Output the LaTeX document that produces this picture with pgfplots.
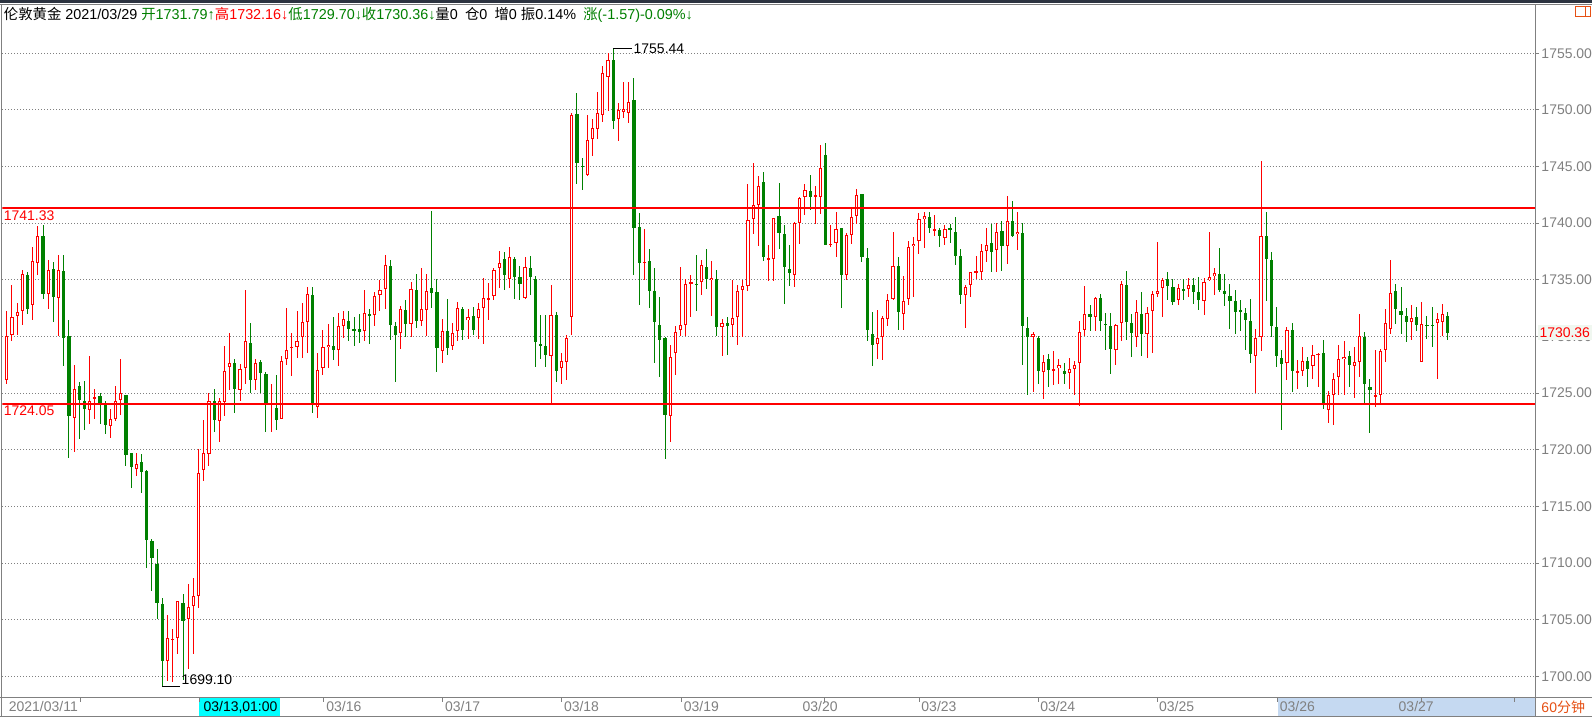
\documentclass[border=0pt]{standalone}
\usepackage{pgfplots}
\usepackage{pgfplotstable}
\usepackage{fontspec}
\pgfplotsset{compat=1.18}
\setmainfont{Liberation Sans}
\newfontfamily\cjk{Noto Sans CJK SC}
\definecolor{upred}{RGB}{255,0,0}
\definecolor{dngreen}{RGB}{0,128,0}
\definecolor{axgray}{RGB}{128,128,128}
\definecolor{stripblue}{RGB}{197,217,241}
\definecolor{cursorcyan}{RGB}{0,255,255}
\definecolor{topbar}{RGB}{44,51,64}
\definecolor{orng}{RGB}{230,80,20}
\definecolor{lastbg}{RGB}{240,247,240}

% 60-minute bars: n open high low close
\pgfplotstableread{
n o h l c
1 1726.18 1732.29 1725.82 1730.08
2 1730.14 1734.58 1729.58 1731.73
3 1731.82 1732.96 1730.17 1732.17
4 1732.26 1735.90 1731.00 1735.55
5 1735.46 1735.67 1731.96 1732.43
6 1732.76 1737.93 1731.44 1736.66
7 1736.46 1739.72 1735.46 1738.90
8 1738.90 1739.87 1733.35 1733.73
9 1733.73 1736.78 1732.46 1735.90
10 1735.99 1736.61 1731.26 1733.46
11 1733.37 1737.22 1730.03 1735.90
12 1735.75 1737.22 1727.38 1729.88
13 1730.03 1731.50 1719.30 1722.98
14 1722.80 1727.44 1719.80 1725.38
15 1725.59 1726.03 1720.92 1724.38
16 1724.35 1726.03 1721.74 1723.56
17 1723.50 1728.26 1722.24 1724.32
18 1724.56 1725.32 1722.68 1724.68
19 1724.71 1725.03 1722.24 1724.12
20 1724.06 1724.30 1721.36 1722.18
21 1722.10 1723.65 1721.01 1722.68
22 1722.68 1725.68 1722.53 1724.32
23 1724.41 1727.97 1723.03 1725.00
24 1724.85 1724.85 1718.54 1719.51
25 1719.68 1719.68 1716.63 1718.48
26 1718.33 1719.74 1717.69 1718.80
27 1718.89 1719.60 1716.22 1718.01
28 1718.10 1718.27 1709.58 1712.05
29 1711.96 1712.17 1707.55 1710.46
30 1709.90 1711.22 1705.06 1706.52
31 1706.37 1706.90 1699.10 1701.38
32 1701.38 1705.41 1699.60 1703.35
33 1703.20 1704.17 1699.50 1703.30
34 1703.35 1706.67 1701.97 1706.67
35 1706.52 1707.26 1699.70 1704.91
36 1705.05 1708.14 1700.65 1706.17
37 1706.23 1708.73 1701.97 1707.11
38 1707.11 1720.10 1706.00 1717.98
39 1718.22 1722.62 1717.25 1719.68
40 1719.60 1725.03 1718.57 1724.32
41 1724.32 1725.38 1721.56 1722.62
42 1722.53 1724.59 1720.68 1724.32
43 1724.21 1729.20 1722.98 1726.94
44 1727.32 1730.32 1725.27 1727.68
45 1727.68 1728.03 1723.27 1725.33
46 1725.27 1727.59 1724.30 1727.15
47 1727.23 1734.08 1725.77 1729.61
48 1729.44 1731.20 1725.03 1726.15
49 1726.15 1728.03 1725.27 1727.68
50 1727.76 1727.97 1725.03 1726.80
51 1726.74 1726.88 1721.56 1724.15
52 1723.94 1725.82 1721.56 1724.09
53 1723.65 1726.65 1721.74 1722.62
54 1722.77 1728.26 1722.68 1727.82
55 1728.03 1732.52 1727.53 1728.79
56 1729.00 1730.32 1726.50 1729.10
57 1729.08 1732.23 1728.11 1729.64
58 1729.97 1732.96 1728.11 1731.29
59 1731.29 1734.37 1728.56 1733.78
60 1733.70 1734.37 1723.27 1724.15
61 1723.79 1728.56 1722.83 1727.09
62 1727.23 1730.61 1726.65 1729.08
63 1729.08 1731.14 1727.18 1729.29
64 1729.20 1731.70 1727.97 1728.79
65 1728.79 1732.08 1727.38 1730.94
66 1730.91 1732.23 1729.88 1731.55
67 1731.41 1732.23 1729.58 1730.70
68 1730.64 1731.70 1729.14 1730.55
69 1730.64 1732.02 1729.38 1730.43
70 1730.46 1734.14 1729.58 1732.08
71 1732.02 1732.43 1729.38 1731.79
72 1731.88 1733.90 1730.96 1733.61
73 1733.64 1734.96 1732.23 1734.14
74 1734.20 1737.22 1732.43 1736.31
75 1736.25 1736.78 1729.67 1731.05
76 1730.96 1731.32 1725.97 1730.14
77 1730.32 1732.73 1728.85 1732.43
78 1732.38 1733.26 1729.97 1731.14
79 1731.11 1734.84 1729.97 1734.20
80 1734.14 1735.55 1730.73 1731.35
81 1731.35 1736.08 1730.91 1732.43
82 1732.35 1735.55 1730.03 1734.02
83 1734.29 1741.10 1732.49 1733.84
84 1733.96 1735.11 1726.85 1728.97
85 1728.70 1731.55 1727.62 1730.52
86 1730.52 1733.34 1728.38 1728.97
87 1729.14 1731.20 1728.79 1730.32
88 1730.46 1733.08 1729.58 1732.52
89 1732.43 1732.58 1729.67 1730.61
90 1731.44 1732.43 1729.79 1731.73
91 1731.85 1732.61 1730.17 1730.55
92 1731.61 1732.96 1729.79 1732.43
93 1732.49 1735.17 1729.38 1733.40
94 1733.34 1734.73 1731.49 1733.37
95 1733.55 1736.05 1733.26 1735.90
96 1736.05 1737.58 1734.28 1736.49
97 1736.87 1737.49 1734.08 1735.40
98 1735.08 1737.90 1734.28 1737.02
99 1736.87 1737.02 1733.32 1735.26
100 1735.26 1736.20 1733.26 1734.64
101 1733.37 1737.02 1733.32 1736.14
102 1736.05 1737.14 1733.70 1735.23
103 1735.08 1735.32 1727.32 1729.49
104 1729.32 1731.93 1727.97 1729.23
105 1729.20 1731.93 1727.29 1728.38
106 1728.26 1734.58 1724.15 1731.90
107 1731.90 1732.14 1725.97 1726.94
108 1727.20 1728.50 1725.82 1727.82
109 1727.76 1730.17 1726.15 1729.88
110 1731.73 1749.77 1730.11 1749.53
111 1749.65 1751.47 1743.42 1745.30
112 1745.07 1745.74 1742.89 1744.98
113 1744.27 1749.56 1744.18 1747.36
114 1747.42 1749.21 1745.95 1748.39
115 1748.36 1751.62 1747.42 1749.71
116 1749.56 1753.88 1748.97 1753.23
117 1752.94 1755.00 1749.94 1754.41
118 1754.41 1755.44 1748.30 1749.06
119 1749.18 1750.59 1747.30 1749.99
120 1749.85 1752.44 1749.27 1750.06
121 1749.77 1752.50 1748.88 1750.74
122 1750.88 1752.79 1735.43 1739.57
123 1739.66 1740.89 1732.76 1736.49
124 1736.49 1739.48 1734.96 1736.61
125 1736.64 1737.72 1732.49 1734.00
126 1734.02 1736.05 1727.62 1731.26
127 1731.05 1733.46 1726.44 1729.67
128 1729.82 1729.97 1719.21 1723.03
129 1723.03 1729.29 1720.68 1728.20
130 1728.55 1730.96 1726.65 1730.38
131 1730.55 1736.14 1730.02 1731.02
132 1731.05 1735.11 1730.02 1734.64
133 1734.67 1735.46 1731.73 1734.79
134 1734.67 1737.22 1732.23 1734.58
135 1734.82 1736.78 1733.64 1736.31
136 1736.11 1737.72 1734.20 1735.08
137 1734.96 1736.69 1731.85 1735.17
138 1735.08 1735.90 1730.02 1730.82
139 1730.85 1731.55 1728.26 1731.20
140 1731.20 1731.73 1728.35 1730.91
141 1731.02 1735.02 1729.97 1731.64
142 1731.73 1734.58 1729.23 1734.05
143 1734.08 1735.02 1729.97 1734.49
144 1734.49 1743.48 1733.99 1740.31
145 1740.37 1745.30 1739.07 1741.63
146 1741.60 1744.18 1737.96 1743.30
147 1743.62 1744.54 1736.64 1736.99
148 1736.78 1738.10 1734.87 1736.90
149 1736.84 1740.45 1734.87 1740.45
150 1740.66 1743.54 1737.75 1739.19
151 1739.07 1739.87 1732.90 1736.11
152 1735.96 1738.10 1734.43 1735.61
153 1735.43 1740.07 1734.35 1740.01
154 1740.01 1742.36 1738.19 1742.22
155 1742.36 1743.48 1740.75 1742.95
156 1742.86 1744.27 1741.19 1742.36
157 1742.36 1743.30 1739.92 1742.45
158 1742.30 1746.92 1740.84 1744.86
159 1746.04 1747.06 1738.04 1738.04
160 1738.10 1739.87 1737.90 1738.19
161 1738.25 1740.98 1737.02 1739.51
162 1739.57 1739.57 1732.52 1735.46
163 1735.46 1739.13 1735.02 1738.98
164 1738.95 1741.33 1738.19 1740.54
165 1740.66 1743.07 1739.95 1742.48
166 1742.60 1742.60 1736.55 1737.07
167 1736.96 1737.81 1729.58 1730.55
168 1730.26 1732.20 1727.38 1729.23
169 1729.35 1732.38 1728.06 1729.88
170 1729.97 1731.85 1727.97 1731.64
171 1731.55 1733.76 1730.91 1733.23
172 1733.35 1739.19 1733.20 1736.26
173 1736.20 1736.99 1730.61 1732.14
174 1732.00 1735.31 1730.55 1733.14
175 1733.32 1738.46 1732.82 1737.90
176 1737.96 1738.78 1733.46 1738.19
177 1738.43 1740.89 1737.31 1740.37
178 1740.37 1741.01 1737.78 1740.63
179 1740.54 1741.01 1739.13 1739.54
180 1739.36 1740.75 1738.90 1739.45
181 1739.42 1739.57 1737.87 1738.84
182 1738.75 1739.84 1738.04 1739.48
183 1739.60 1739.93 1738.25 1739.42
184 1739.25 1740.54 1736.28 1737.07
185 1737.13 1737.75 1732.85 1733.64
186 1733.64 1734.55 1730.73 1734.37
187 1734.55 1735.69 1733.46 1735.69
188 1735.67 1737.13 1735.11 1735.81
189 1735.69 1738.16 1734.96 1737.54
190 1737.60 1739.54 1736.55 1738.07
191 1738.25 1739.95 1735.67 1737.49
192 1737.60 1740.01 1735.67 1739.22
193 1739.31 1740.16 1735.75 1737.96
194 1737.96 1742.42 1736.43 1740.19
195 1740.22 1741.98 1738.75 1738.90
196 1739.04 1741.01 1737.60 1739.25
197 1739.16 1740.01 1727.47 1730.97
198 1730.76 1731.73 1724.80 1729.97
199 1729.97 1730.38 1725.09 1730.23
200 1729.88 1730.08 1725.77 1726.94
201 1726.88 1728.32 1724.50 1727.76
202 1727.97 1728.50 1725.53 1727.03
203 1727.03 1728.76 1725.71 1727.12
204 1727.21 1728.03 1725.85 1727.50
205 1727.00 1727.62 1725.85 1726.65
206 1726.80 1728.12 1725.33 1727.09
207 1727.15 1727.88 1724.80 1727.50
208 1727.68 1731.41 1723.86 1730.41
209 1730.61 1734.49 1730.02 1731.99
210 1732.02 1732.82 1730.46 1731.70
211 1731.70 1733.49 1730.52 1733.41
212 1733.41 1733.76 1730.46 1731.35
213 1731.14 1732.11 1728.85 1730.99
214 1730.97 1732.11 1726.71 1728.91
215 1728.79 1731.11 1727.47 1731.02
216 1731.20 1734.87 1729.65 1734.64
217 1734.58 1735.81 1729.68 1731.26
218 1731.20 1732.00 1728.18 1730.32
219 1729.97 1733.23 1729.09 1732.17
220 1732.02 1733.93 1728.32 1730.23
221 1730.23 1732.61 1728.12 1732.08
222 1732.29 1734.05 1728.56 1733.76
223 1733.76 1738.34 1733.50 1734.05
224 1734.29 1735.17 1731.70 1735.02
225 1735.08 1735.73 1733.20 1734.43
226 1734.40 1735.08 1732.82 1733.03
227 1733.20 1734.64 1732.82 1734.29
228 1734.23 1735.08 1733.26 1734.00
229 1734.20 1735.17 1733.46 1734.58
230 1734.58 1735.17 1732.88 1733.91
231 1733.97 1735.26 1732.32 1733.26
232 1733.11 1735.17 1731.88 1734.82
233 1734.96 1739.19 1734.87 1735.26
234 1735.32 1736.05 1733.70 1735.61
235 1735.55 1737.81 1733.91 1734.08
236 1734.05 1735.52 1732.67 1733.79
237 1733.61 1734.67 1730.70 1733.11
238 1733.17 1734.14 1730.26 1732.20
239 1732.32 1733.20 1730.52 1732.23
240 1732.08 1732.52 1728.77 1731.49
241 1731.41 1733.35 1727.68 1728.47
242 1728.27 1730.70 1725.03 1729.88
243 1729.94 1745.51 1728.71 1738.87
244 1738.90 1741.04 1733.11 1736.87
245 1736.78 1737.49 1729.94 1730.91
246 1730.85 1732.61 1727.33 1728.27
247 1728.12 1728.85 1721.80 1727.59
248 1727.68 1730.85 1726.21 1730.58
249 1730.58 1731.23 1725.09 1726.94
250 1726.86 1727.97 1725.39 1726.94
251 1726.94 1729.12 1726.56 1727.88
252 1727.88 1728.21 1725.53 1727.18
253 1727.38 1729.26 1726.27 1728.38
254 1728.41 1728.56 1725.56 1728.50
255 1728.59 1729.73 1723.56 1724.09
256 1723.56 1725.18 1722.40 1724.83
257 1724.83 1726.80 1722.20 1726.27
258 1726.42 1729.29 1724.83 1728.03
259 1728.03 1729.65 1724.83 1728.21
260 1728.32 1728.68 1725.53 1727.47
261 1727.38 1729.06 1724.59 1727.76
262 1727.74 1732.02 1726.44 1730.02
263 1729.97 1730.41 1723.91 1725.77
264 1725.56 1726.21 1721.50 1725.27
265 1724.68 1728.85 1723.80 1724.80
266 1724.83 1728.91 1723.91 1728.74
267 1728.79 1732.46 1727.74 1731.14
268 1730.67 1736.78 1730.26 1733.85
269 1734.05 1734.67 1731.11 1732.38
270 1732.29 1734.35 1730.26 1731.88
271 1731.79 1732.50 1729.50 1731.32
272 1731.26 1732.82 1729.68 1731.64
273 1731.73 1732.61 1730.47 1731.00
274 1727.77 1733.06 1727.77 1731.14
275 1731.06 1731.85 1729.79 1730.97
276 1731.06 1732.58 1729.09 1730.97
277 1731.20 1732.08 1726.21 1731.58
278 1731.26 1732.91 1730.03 1731.99
279 1731.79 1732.16 1729.70 1730.36
}\candles

\pgfplotsset{
  candle/.style 2 args={draw=none, mark=none, forget plot,
    error bars/y dir=both, error bars/y explicit, error bars/error mark=none,
    error bars/error bar style={draw=#1, line width=#2, line cap=butt}},
  up/.style={restrict expr to domain={\thisrow{c}-\thisrow{o}}{0:100}},
  down/.style={restrict expr to domain={\thisrow{c}-\thisrow{o}}{-100:-0.001}},
}

\begin{document}
\begin{tikzpicture}[font=\fontsize{7pt}{8pt}\selectfont]
% 1px = 0.5pt, origin at top left
\begin{scope}[x=0.5pt,y=-0.5pt]
  \path[use as bounding box] (0,0) rectangle (1594,719);
  \fill[white] (0,0) rectangle (1594,719);
  \fill[topbar] (0,0) rectangle (1594,3);
  \fill[stripblue] (1279,699) rectangle (1537,717);
  \fill[cursorcyan] (198.5,699) rectangle (280,717);
\end{scope}

\begin{axis}[at={(1pt,-349pt)}, anchor=south west,
  scale only axis, width=767.5pt, height=346.5pt,
  xmin=0.172, xmax=295.87, ymin=1698.18, ymax=1759.26,
  axis line style={draw=none},
  xtick=\empty,
  ytick={1700,1705,...,1755},
  ytick pos=right, yticklabel pos=right,
  tick align=outside, major tick length=2pt,
  ytick style={axgray, line width=0.5pt},
  ymajorgrids,
  grid style={axgray, line width=0.5pt, dash pattern=on 0.5pt off 1pt},
  yticklabel style={text=axgray, inner sep=1pt, font=\fontsize{7pt}{8pt}\selectfont,
    /pgf/number format/fixed, /pgf/number format/fixed zerofill,
    /pgf/number format/precision=2, /pgf/number format/1000 sep={},
    /pgf/number format/assume math mode=true},
]
% rising bars: red wick, red body, white inside
\addplot[up, candle={upred}{0.5pt}]
  table[x=n, y expr={(\thisrow{h}+\thisrow{l})/2},
        y error expr={(\thisrow{h}-\thisrow{l})/2}] {\candles};
\addplot[up, candle={upred}{1.6pt}]
  table[x=n, y expr={(\thisrow{o}+\thisrow{c})/2},
        y error expr={max((\thisrow{c}-\thisrow{o})/2,0.045)}] {\candles};
\addplot[up, candle={white}{0.6pt}]
  table[x=n, y expr={(\thisrow{o}+\thisrow{c})/2},
        y error expr={max((\thisrow{c}-\thisrow{o})/2-0.088,0)}] {\candles};
% falling bars: green wick, filled green body
\addplot[down, candle={dngreen}{0.5pt}]
  table[x=n, y expr={(\thisrow{h}+\thisrow{l})/2},
        y error expr={(\thisrow{h}-\thisrow{l})/2}] {\candles};
\addplot[down, candle={dngreen}{1.6pt}]
  table[x=n, y expr={(\thisrow{o}+\thisrow{c})/2},
        y error expr={max((\thisrow{o}-\thisrow{c})/2,0.045)}] {\candles};

% support / resistance lines
\addplot[upred, line width=1pt, forget plot] coordinates {(0,1741.33) (300,1741.33)};
\addplot[upred, line width=1pt, forget plot] coordinates {(0,1724.05) (300,1724.05)};

% extreme markers
\draw[black, line width=0.5pt] (axis cs:118,1755.44) -- ([xshift=9.5pt]axis cs:118,1755.44)
  node[anchor=west, inner sep=0.5pt] {1755.44};
\draw[black, line width=0.5pt] (axis cs:31,1699.10) -- ([xshift=9pt]axis cs:31,1699.10)
  node[anchor=south west, inner sep=0.5pt] {1699.10};
\end{axis}

\begin{scope}[x=0.5pt,y=-0.5pt]
  % frame
  \draw[axgray, line width=0.5pt] (0,4.75) -- (1594,4.75);
  \draw[axgray, line width=0.5pt] (1.5,4.75) -- (1.5,717.5);
  \draw[axgray, line width=0.5pt] (1537,4.75) -- (1537,717.5);
  \draw[axgray, line width=0.5pt] (0,698.75) -- (1594,698.75);
  \draw[axgray, line width=0.5pt] (0,717.5) -- (1594,717.5);
  % header
  \node[anchor=west, inner sep=0pt, font=\fontsize{7.2pt}{9pt}\selectfont] at (3,15)
    {{\cjk 伦敦黄金} 2021/03/29
    \textcolor{dngreen}{{\cjk 开}1731.79↑}\textcolor{upred}{{\cjk 高}1732.16↓}%
    \textcolor{dngreen}{{\cjk 低}1729.70↓}\textcolor{dngreen}{{\cjk 收}1730.36↓}%
    {\cjk 量}0\enspace{\cjk 仓}0\enspace{\cjk 增}0 {\cjk 振}0.14\%\enspace
    \textcolor{dngreen}{{\cjk 涨}(-1.57)-0.09\%↓}};
  % corner icon
  \draw[orng, line width=0.5pt] (1577,7) rectangle (1592,17);
  \draw[orng, line width=0.5pt] (1587.5,7) -- (1587.5,17);
  % level labels
  \node[anchor=north west, inner sep=0pt, text=upred] at (3,210.5) {1741.33};
  \node[anchor=north west, inner sep=0pt, text=upred] at (3,406) {1724.05};
  \fill[lastbg] (1540,325) rectangle (1594,341);
  \node[anchor=west, inner sep=0pt, text=upred] at (1541,333) {1730.36};
  % date strip
  \foreach \t in {80,199,324,443,562,682,825,920,1040,1159,1279,1423,1516}
    \draw[axgray, line width=0.5pt] (\t,699) -- (\t,703);
  \node[anchor=west, inner sep=0pt, text=axgray] at (8,708) {2021/03/11};
  \node[anchor=west, inner sep=0pt, text=black] at (203,708) {03/13,01:00};
  \foreach \t/\d in {326/03\slash16,445/03\slash17,564/03\slash18,684/03\slash19,
      803/03\slash20,922/03\slash23,1041/03\slash24,1160/03\slash25,1281/03\slash26,1400/03\slash27}
    \node[anchor=west, inner sep=0pt, text=axgray] at (\t,708) {\d};
  \node[anchor=west, inner sep=0pt, text=orng] at (1543,708) {60{\cjk 分钟}};
\end{scope}
\end{tikzpicture}
\end{document}
